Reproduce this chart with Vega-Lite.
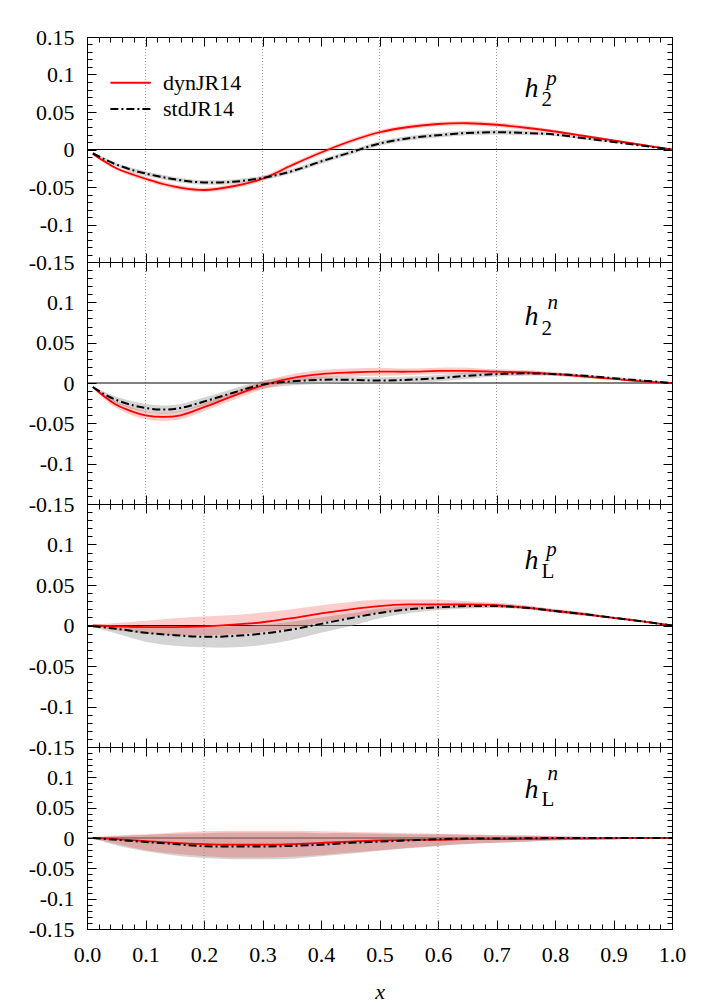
{
"$schema": "https://vega.github.io/schema/vega-lite/v6.json",
"background": "white",
"padding": {"left": 27, "top": 25, "right": 5, "bottom": 5},
"bounds": "flush",
"spacing": 0,
"datasets": {
"curves": [
{"panel":"h2p","x":0.01,"dyn":-0.006,"dyn_lo":-0.007,"dyn_hi":-0.005,"std":-0.005,"std_lo":-0.006,"std_hi":-0.004},
{"panel":"h2p","x":0.03,"dyn":-0.016,"dyn_lo":-0.018,"dyn_hi":-0.014,"std":-0.013,"std_lo":-0.015,"std_hi":-0.011},
{"panel":"h2p","x":0.05,"dyn":-0.025,"dyn_lo":-0.027,"dyn_hi":-0.023,"std":-0.020,"std_lo":-0.022,"std_hi":-0.018},
{"panel":"h2p","x":0.08,"dyn":-0.034,"dyn_lo":-0.037,"dyn_hi":-0.031,"std":-0.028,"std_lo":-0.031,"std_hi":-0.025},
{"panel":"h2p","x":0.1,"dyn":-0.039,"dyn_lo":-0.042,"dyn_hi":-0.036,"std":-0.032,"std_lo":-0.035,"std_hi":-0.029},
{"panel":"h2p","x":0.13,"dyn":-0.046,"dyn_lo":-0.049,"dyn_hi":-0.043,"std":-0.037,"std_lo":-0.040,"std_hi":-0.034},
{"panel":"h2p","x":0.16,"dyn":-0.051,"dyn_lo":-0.054,"dyn_hi":-0.048,"std":-0.041,"std_lo":-0.044,"std_hi":-0.038},
{"panel":"h2p","x":0.2,"dyn":-0.054,"dyn_lo":-0.057,"dyn_hi":-0.051,"std":-0.044,"std_lo":-0.047,"std_hi":-0.041},
{"panel":"h2p","x":0.25,"dyn":-0.049,"dyn_lo":-0.052,"dyn_hi":-0.046,"std":-0.043,"std_lo":-0.046,"std_hi":-0.040},
{"panel":"h2p","x":0.3,"dyn":-0.039,"dyn_lo":-0.042,"dyn_hi":-0.036,"std":-0.038,"std_lo":-0.041,"std_hi":-0.035},
{"panel":"h2p","x":0.35,"dyn":-0.021,"dyn_lo":-0.024,"dyn_hi":-0.018,"std":-0.029,"std_lo":-0.032,"std_hi":-0.026},
{"panel":"h2p","x":0.4,"dyn":-0.004,"dyn_lo":-0.007,"dyn_hi":-0.001,"std":-0.016,"std_lo":-0.019,"std_hi":-0.013},
{"panel":"h2p","x":0.45,"dyn":0.011,"dyn_lo":0.008,"dyn_hi":0.014,"std":-0.004,"std_lo":-0.007,"std_hi":-0.001},
{"panel":"h2p","x":0.5,"dyn":0.023,"dyn_lo":0.020,"dyn_hi":0.026,"std":0.008,"std_lo":0.005,"std_hi":0.011},
{"panel":"h2p","x":0.55,"dyn":0.030,"dyn_lo":0.027,"dyn_hi":0.033,"std":0.015,"std_lo":0.012,"std_hi":0.018},
{"panel":"h2p","x":0.6,"dyn":0.034,"dyn_lo":0.031,"dyn_hi":0.037,"std":0.019,"std_lo":0.016,"std_hi":0.022},
{"panel":"h2p","x":0.65,"dyn":0.035,"dyn_lo":0.032,"dyn_hi":0.038,"std":0.022,"std_lo":0.019,"std_hi":0.025},
{"panel":"h2p","x":0.7,"dyn":0.033,"dyn_lo":0.030,"dyn_hi":0.036,"std":0.023,"std_lo":0.020,"std_hi":0.026},
{"panel":"h2p","x":0.75,"dyn":0.029,"dyn_lo":0.026,"dyn_hi":0.032,"std":0.022,"std_lo":0.019,"std_hi":0.025},
{"panel":"h2p","x":0.8,"dyn":0.024,"dyn_lo":0.022,"dyn_hi":0.026,"std":0.020,"std_lo":0.018,"std_hi":0.022},
{"panel":"h2p","x":0.85,"dyn":0.018,"dyn_lo":0.016,"dyn_hi":0.020,"std":0.015,"std_lo":0.013,"std_hi":0.017},
{"panel":"h2p","x":0.9,"dyn":0.012,"dyn_lo":0.011,"dyn_hi":0.013,"std":0.010,"std_lo":0.009,"std_hi":0.011},
{"panel":"h2p","x":0.95,"dyn":0.006,"dyn_lo":0.005,"dyn_hi":0.007,"std":0.005,"std_lo":0.004,"std_hi":0.006},
{"panel":"h2p","x":1,"dyn":0,"dyn_lo":0,"dyn_hi":0,"std":0,"std_lo":0,"std_hi":0},
{"panel":"h2n","x":0.01,"dyn":-0.005,"dyn_lo":-0.006,"dyn_hi":-0.004,"std":-0.005,"std_lo":-0.006,"std_hi":-0.004},
{"panel":"h2n","x":0.03,"dyn":-0.017,"dyn_lo":-0.020,"dyn_hi":-0.014,"std":-0.014,"std_lo":-0.017,"std_hi":-0.011},
{"panel":"h2n","x":0.05,"dyn":-0.027,"dyn_lo":-0.031,"dyn_hi":-0.023,"std":-0.021,"std_lo":-0.025,"std_hi":-0.017},
{"panel":"h2n","x":0.08,"dyn":-0.036,"dyn_lo":-0.041,"dyn_hi":-0.031,"std":-0.028,"std_lo":-0.033,"std_hi":-0.023},
{"panel":"h2n","x":0.1,"dyn":-0.040,"dyn_lo":-0.045,"dyn_hi":-0.035,"std":-0.031,"std_lo":-0.036,"std_hi":-0.026},
{"panel":"h2n","x":0.13,"dyn":-0.042,"dyn_lo":-0.047,"dyn_hi":-0.037,"std":-0.033,"std_lo":-0.038,"std_hi":-0.028},
{"panel":"h2n","x":0.16,"dyn":-0.040,"dyn_lo":-0.045,"dyn_hi":-0.035,"std":-0.031,"std_lo":-0.036,"std_hi":-0.026},
{"panel":"h2n","x":0.2,"dyn":-0.030,"dyn_lo":-0.035,"dyn_hi":-0.025,"std":-0.023,"std_lo":-0.028,"std_hi":-0.018},
{"panel":"h2n","x":0.25,"dyn":-0.016,"dyn_lo":-0.021,"dyn_hi":-0.011,"std":-0.012,"std_lo":-0.017,"std_hi":-0.007},
{"panel":"h2n","x":0.3,"dyn":-0.003,"dyn_lo":-0.008,"dyn_hi":0.002,"std":-0.002,"std_lo":-0.007,"std_hi":0.003},
{"panel":"h2n","x":0.35,"dyn":0.006,"dyn_lo":0.001,"dyn_hi":0.011,"std":0.002,"std_lo":-0.003,"std_hi":0.007},
{"panel":"h2n","x":0.4,"dyn":0.011,"dyn_lo":0.006,"dyn_hi":0.016,"std":0.004,"std_lo":-0.001,"std_hi":0.008},
{"panel":"h2n","x":0.45,"dyn":0.013,"dyn_lo":0.008,"dyn_hi":0.018,"std":0.004,"std_lo":0.000,"std_hi":0.008},
{"panel":"h2n","x":0.5,"dyn":0.014,"dyn_lo":0.009,"dyn_hi":0.019,"std":0.003,"std_lo":-0.001,"std_hi":0.007},
{"panel":"h2n","x":0.55,"dyn":0.014,"dyn_lo":0.010,"dyn_hi":0.018,"std":0.004,"std_lo":0.000,"std_hi":0.008},
{"panel":"h2n","x":0.6,"dyn":0.015,"dyn_lo":0.011,"dyn_hi":0.019,"std":0.006,"std_lo":0.002,"std_hi":0.010},
{"panel":"h2n","x":0.65,"dyn":0.015,"dyn_lo":0.011,"dyn_hi":0.019,"std":0.009,"std_lo":0.005,"std_hi":0.013},
{"panel":"h2n","x":0.7,"dyn":0.014,"dyn_lo":0.011,"dyn_hi":0.017,"std":0.011,"std_lo":0.008,"std_hi":0.014},
{"panel":"h2n","x":0.75,"dyn":0.013,"dyn_lo":0.010,"dyn_hi":0.016,"std":0.012,"std_lo":0.009,"std_hi":0.015},
{"panel":"h2n","x":0.8,"dyn":0.011,"dyn_lo":0.009,"dyn_hi":0.013,"std":0.011,"std_lo":0.009,"std_hi":0.013},
{"panel":"h2n","x":0.85,"dyn":0.008,"dyn_lo":0.006,"dyn_hi":0.010,"std":0.009,"std_lo":0.007,"std_hi":0.011},
{"panel":"h2n","x":0.9,"dyn":0.005,"dyn_lo":0.004,"dyn_hi":0.006,"std":0.006,"std_lo":0.005,"std_hi":0.007},
{"panel":"h2n","x":0.95,"dyn":0.002,"dyn_lo":0.001,"dyn_hi":0.003,"std":0.003,"std_lo":0.002,"std_hi":0.004},
{"panel":"h2n","x":1,"dyn":0,"dyn_lo":0,"dyn_hi":0,"std":0,"std_lo":0,"std_hi":0},
{"panel":"hLp","x":0.01,"dyn":0.000,"dyn_lo":-0.001,"dyn_hi":0.001,"std":-0.001,"std_lo":-0.002,"std_hi":0.000},
{"panel":"hLp","x":0.05,"dyn":-0.001,"dyn_lo":-0.006,"dyn_hi":0.003,"std":-0.004,"std_lo":-0.010,"std_hi":0.000},
{"panel":"hLp","x":0.1,"dyn":-0.002,"dyn_lo":-0.010,"dyn_hi":0.006,"std":-0.009,"std_lo":-0.020,"std_hi":-0.001},
{"panel":"hLp","x":0.15,"dyn":-0.002,"dyn_lo":-0.012,"dyn_hi":0.009,"std":-0.012,"std_lo":-0.025,"std_hi":-0.002},
{"panel":"hLp","x":0.2,"dyn":-0.001,"dyn_lo":-0.012,"dyn_hi":0.011,"std":-0.014,"std_lo":-0.027,"std_hi":-0.002},
{"panel":"hLp","x":0.25,"dyn":0.001,"dyn_lo":-0.011,"dyn_hi":0.013,"std":-0.013,"std_lo":-0.027,"std_hi":-0.001},
{"panel":"hLp","x":0.3,"dyn":0.004,"dyn_lo":-0.008,"dyn_hi":0.016,"std":-0.010,"std_lo":-0.024,"std_hi":0.001},
{"panel":"hLp","x":0.35,"dyn":0.009,"dyn_lo":-0.003,"dyn_hi":0.020,"std":-0.005,"std_lo":-0.018,"std_hi":0.005},
{"panel":"hLp","x":0.4,"dyn":0.015,"dyn_lo":0.004,"dyn_hi":0.025,"std":0.002,"std_lo":-0.009,"std_hi":0.010},
{"panel":"hLp","x":0.45,"dyn":0.020,"dyn_lo":0.010,"dyn_hi":0.029,"std":0.009,"std_lo":-0.001,"std_hi":0.015},
{"panel":"hLp","x":0.5,"dyn":0.024,"dyn_lo":0.016,"dyn_hi":0.032,"std":0.0155,"std_lo":0.009,"std_hi":0.021},
{"panel":"hLp","x":0.55,"dyn":0.026,"dyn_lo":0.020,"dyn_hi":0.032,"std":0.020,"std_lo":0.015,"std_hi":0.024},
{"panel":"hLp","x":0.6,"dyn":0.026,"dyn_lo":0.021,"dyn_hi":0.032,"std":0.0225,"std_lo":0.019,"std_hi":0.026},
{"panel":"hLp","x":0.65,"dyn":0.026,"dyn_lo":0.022,"dyn_hi":0.030,"std":0.024,"std_lo":0.021,"std_hi":0.027},
{"panel":"hLp","x":0.7,"dyn":0.025,"dyn_lo":0.022,"dyn_hi":0.028,"std":0.024,"std_lo":0.022,"std_hi":0.027},
{"panel":"hLp","x":0.75,"dyn":0.022,"dyn_lo":0.020,"dyn_hi":0.025,"std":0.022,"std_lo":0.020,"std_hi":0.024},
{"panel":"hLp","x":0.8,"dyn":0.018,"dyn_lo":0.016,"dyn_hi":0.020,"std":0.018,"std_lo":0.016,"std_hi":0.020},
{"panel":"hLp","x":0.85,"dyn":0.014,"dyn_lo":0.012,"dyn_hi":0.016,"std":0.014,"std_lo":0.012,"std_hi":0.016},
{"panel":"hLp","x":0.9,"dyn":0.0095,"dyn_lo":0.0085,"dyn_hi":0.0105,"std":0.0095,"std_lo":0.0085,"std_hi":0.0105},
{"panel":"hLp","x":0.95,"dyn":0.005,"dyn_lo":0.004,"dyn_hi":0.006,"std":0.005,"std_lo":0.004,"std_hi":0.006},
{"panel":"hLp","x":1,"dyn":0,"dyn_lo":0,"dyn_hi":0,"std":0,"std_lo":0,"std_hi":0},
{"panel":"hLn","x":0.01,"dyn":0,"dyn_lo":-0.001,"dyn_hi":0.001,"std":0,"std_lo":-0.001,"std_hi":0.001},
{"panel":"hLn","x":0.05,"dyn":-0.002,"dyn_lo":-0.010,"dyn_hi":0.004,"std":-0.003,"std_lo":-0.012,"std_hi":0.003},
{"panel":"hLn","x":0.1,"dyn":-0.005,"dyn_lo":-0.020,"dyn_hi":0.006,"std":-0.0065,"std_lo":-0.022,"std_hi":0.005},
{"panel":"hLn","x":0.15,"dyn":-0.008,"dyn_lo":-0.026,"dyn_hi":0.009,"std":-0.010,"std_lo":-0.029,"std_hi":0.007},
{"panel":"hLn","x":0.2,"dyn":-0.010,"dyn_lo":-0.030,"dyn_hi":0.011,"std":-0.0135,"std_lo":-0.033,"std_hi":0.008},
{"panel":"hLn","x":0.25,"dyn":-0.011,"dyn_lo":-0.032,"dyn_hi":0.012,"std":-0.014,"std_lo":-0.035,"std_hi":0.009},
{"panel":"hLn","x":0.3,"dyn":-0.011,"dyn_lo":-0.032,"dyn_hi":0.012,"std":-0.014,"std_lo":-0.035,"std_hi":0.009},
{"panel":"hLn","x":0.35,"dyn":-0.010,"dyn_lo":-0.031,"dyn_hi":0.012,"std":-0.013,"std_lo":-0.034,"std_hi":0.009},
{"panel":"hLn","x":0.4,"dyn":-0.008,"dyn_lo":-0.028,"dyn_hi":0.011,"std":-0.011,"std_lo":-0.030,"std_hi":0.008},
{"panel":"hLn","x":0.45,"dyn":-0.006,"dyn_lo":-0.024,"dyn_hi":0.010,"std":-0.008,"std_lo":-0.026,"std_hi":0.008},
{"panel":"hLn","x":0.5,"dyn":-0.004,"dyn_lo":-0.020,"dyn_hi":0.009,"std":-0.006,"std_lo":-0.021,"std_hi":0.007},
{"panel":"hLn","x":0.55,"dyn":-0.003,"dyn_lo":-0.016,"dyn_hi":0.008,"std":-0.004,"std_lo":-0.017,"std_hi":0.006},
{"panel":"hLn","x":0.6,"dyn":-0.003,"dyn_lo":-0.013,"dyn_hi":0.007,"std":-0.002,"std_lo":-0.013,"std_hi":0.006},
{"panel":"hLn","x":0.65,"dyn":-0.002,"dyn_lo":-0.010,"dyn_hi":0.006,"std":-0.001,"std_lo":-0.010,"std_hi":0.005},
{"panel":"hLn","x":0.7,"dyn":-0.002,"dyn_lo":-0.008,"dyn_hi":0.005,"std":-0.001,"std_lo":-0.008,"std_hi":0.004},
{"panel":"hLn","x":0.75,"dyn":-0.0015,"dyn_lo":-0.006,"dyn_hi":0.004,"std":-0.0005,"std_lo":-0.006,"std_hi":0.004},
{"panel":"hLn","x":0.8,"dyn":-0.001,"dyn_lo":-0.004,"dyn_hi":0.003,"std":0,"std_lo":-0.004,"std_hi":0.003},
{"panel":"hLn","x":0.85,"dyn":-0.001,"dyn_lo":-0.003,"dyn_hi":0.002,"std":0,"std_lo":-0.003,"std_hi":0.002},
{"panel":"hLn","x":0.9,"dyn":-0.0005,"dyn_lo":-0.002,"dyn_hi":0.001,"std":0,"std_lo":-0.002,"std_hi":0.001},
{"panel":"hLn","x":0.95,"dyn":0,"dyn_lo":-0.001,"dyn_hi":0.001,"std":0,"std_lo":-0.001,"std_hi":0.001},
{"panel":"hLn","x":1,"dyn":0,"dyn_lo":0,"dyn_hi":0,"std":0,"std_lo":0,"std_hi":0}
],
"vlines": [
{"panel":"h2p","x":0.1},{"panel":"h2p","x":0.3},{"panel":"h2p","x":0.5},{"panel":"h2p","x":0.7},
{"panel":"h2n","x":0.1},{"panel":"h2n","x":0.3},{"panel":"h2n","x":0.5},{"panel":"h2n","x":0.7},
{"panel":"hLp","x":0.2},{"panel":"hLp","x":0.6},
{"panel":"hLn","x":0.2},{"panel":"hLn","x":0.6}
],
"labels": [
{"panel":"h2p","part":"base","x":0.748,"y":0.070,"text":"h"},
{"panel":"h2p","part":"sub","x":0.777,"y":0.058,"text":"2"},
{"panel":"h2p","part":"sup","x":0.785,"y":0.086,"text":"p"},
{"panel":"h2n","part":"base","x":0.748,"y":0.0715,"text":"h"},
{"panel":"h2n","part":"sub","x":0.777,"y":0.059,"text":"2"},
{"panel":"h2n","part":"sup","x":0.787,"y":0.092,"text":"n"},
{"panel":"hLp","part":"base","x":0.748,"y":0.070,"text":"h"},
{"panel":"hLp","part":"sub","x":0.777,"y":0.059,"text":"L"},
{"panel":"hLp","part":"sup","x":0.785,"y":0.086,"text":"p"},
{"panel":"hLn","part":"base","x":0.748,"y":0.066,"text":"h"},
{"panel":"hLn","part":"sub","x":0.777,"y":0.053,"text":"L"},
{"panel":"hLn","part":"sup","x":0.787,"y":0.095,"text":"n"}
],
"legend": [
{"series":"dynJR14","x1":0.04,"x2":0.109,"tx":0.13,"y":0.089},
{"series":"stdJR14","x1":0.04,"x2":0.109,"tx":0.13,"y":0.054}
]
},
"vconcat": [
{
"width": 585, "height": 225,
"layer": [
{"data":{"name":"vlines"},"transform":[{"filter":"datum.panel==='h2p'"}],"mark":{"type":"rule","color":"#999999","strokeWidth":1,"strokeDash":[1,2]},"encoding":{"x":{"field":"x","type":"quantitative","scale":{"domain":[0,1],"nice":false},"axis":null}}},
{"data":{"values":[{"y":0}]},"mark":{"type":"rule","color":"black","strokeWidth":1},"encoding":{"y":{"field":"y","type":"quantitative","scale":{"domain":[-0.15,0.15],"nice":false},"axis":null}}},
{"data":{"name":"curves"},"transform":[{"filter":"datum.panel==='h2p'"}],"mark":{"type":"area","color":"#aaaaaa","opacity":0.5,"interpolate":"catmull-rom"},
 "encoding":{"x":{"field":"x","type":"quantitative","scale":{"domain":[0,1],"nice":false},"axis":{"orient":"bottom","values":[0,0.1,0.2,0.3,0.4,0.5,0.6,0.7,0.8,0.9,1],"tickSize":-9,"labels":false,"title":null}},
 "y":{"field":"std_lo","type":"quantitative","scale":{"domain":[-0.15,0.15],"nice":false},"axis":{"orient":"left","values":[-0.15,-0.1,-0.05,0,0.05,0.1,0.15],"tickSize":-9,"labelPadding":22,"labelExpr":"(datum.value < 0 ? '-' : '') + format(abs(datum.value), '.2~f')","title":null}},
 "y2":{"field":"std_hi"}}},
{"data":{"name":"curves"},"transform":[{"filter":"datum.panel==='h2p'"}],"mark":{"type":"area","color":"#ff0000","opacity":0.2,"interpolate":"catmull-rom"},
 "encoding":{"x":{"field":"x","type":"quantitative","scale":{"domain":[0,1],"nice":false},"axis":{"orient":"bottom","values":[0,0.02,0.04,0.06,0.08,0.1,0.12,0.14,0.16,0.18,0.2,0.22,0.24,0.26,0.28,0.3,0.32,0.34,0.36,0.38,0.4,0.42,0.44,0.46,0.48,0.5,0.52,0.54,0.56,0.58,0.6,0.62,0.64,0.66,0.68,0.7,0.72,0.74,0.76,0.78,0.8,0.82,0.84,0.86,0.88,0.9,0.92,0.94,0.96,0.98,1],"tickSize":-5,"labels":false,"title":null}},
 "y":{"field":"dyn_lo","type":"quantitative","scale":{"domain":[-0.15,0.15],"nice":false},"axis":{"orient":"left","values":[-0.15,-0.14,-0.13,-0.12,-0.11,-0.1,-0.09,-0.08,-0.07,-0.06,-0.05,-0.04,-0.03,-0.02,-0.01,0,0.01,0.02,0.03,0.04,0.05,0.06,0.07,0.08,0.09,0.1,0.11,0.12,0.13,0.14,0.15],"tickSize":-5,"labels":false,"title":null}},
 "y2":{"field":"dyn_hi"}}},
{"data":{"name":"curves"},"transform":[{"filter":"datum.panel==='h2p'"}],"mark":{"type":"line","color":"#ff0000","strokeWidth":1.8,"interpolate":"catmull-rom"},
 "encoding":{"x":{"field":"x","type":"quantitative","scale":{"domain":[0,1],"nice":false},"axis":{"orient":"top","values":[0,0.1,0.2,0.3,0.4,0.5,0.6,0.7,0.8,0.9,1],"tickSize":-9,"labels":false,"title":null}},
 "y":{"field":"dyn","type":"quantitative","scale":{"domain":[-0.15,0.15],"nice":false},"axis":{"orient":"right","values":[-0.15,-0.1,-0.05,0,0.05,0.1,0.15],"tickSize":-9,"labels":false,"title":null}}}},
{"data":{"name":"curves"},"transform":[{"filter":"datum.panel==='h2p'"}],"mark":{"type":"line","color":"black","strokeWidth":2,"strokeDash":[8,3,2,3],"interpolate":"catmull-rom"},
 "encoding":{"x":{"field":"x","type":"quantitative","scale":{"domain":[0,1],"nice":false},"axis":{"orient":"top","values":[0,0.02,0.04,0.06,0.08,0.1,0.12,0.14,0.16,0.18,0.2,0.22,0.24,0.26,0.28,0.3,0.32,0.34,0.36,0.38,0.4,0.42,0.44,0.46,0.48,0.5,0.52,0.54,0.56,0.58,0.6,0.62,0.64,0.66,0.68,0.7,0.72,0.74,0.76,0.78,0.8,0.82,0.84,0.86,0.88,0.9,0.92,0.94,0.96,0.98,1],"tickSize":-5,"labels":false,"title":null}},
 "y":{"field":"std","type":"quantitative","scale":{"domain":[-0.15,0.15],"nice":false},"axis":{"orient":"right","values":[-0.15,-0.14,-0.13,-0.12,-0.11,-0.1,-0.09,-0.08,-0.07,-0.06,-0.05,-0.04,-0.03,-0.02,-0.01,0,0.01,0.02,0.03,0.04,0.05,0.06,0.07,0.08,0.09,0.1,0.11,0.12,0.13,0.14,0.15],"tickSize":-5,"labels":false,"title":null}}}},
{"data":{"name":"labels"},"transform":[{"filter":"datum.panel==='h2p' && datum.part==='base'"}],"mark":{"type":"text","font":"Liberation Serif, Times New Roman, serif","fontSize":28,"fontStyle":"italic","align":"left","baseline":"alphabetic"},"encoding":{"x":{"field":"x","type":"quantitative","axis":null},"y":{"field":"y","type":"quantitative","axis":null},"text":{"field":"text"}}},
{"data":{"name":"labels"},"transform":[{"filter":"datum.panel==='h2p' && datum.part==='sub'"}],"mark":{"type":"text","font":"Liberation Serif, Times New Roman, serif","fontSize":21,"align":"left","baseline":"alphabetic"},"encoding":{"x":{"field":"x","type":"quantitative","axis":null},"y":{"field":"y","type":"quantitative","axis":null},"text":{"field":"text"}}},
{"data":{"name":"labels"},"transform":[{"filter":"datum.panel==='h2p' && datum.part==='sup'"}],"mark":{"type":"text","font":"Liberation Serif, Times New Roman, serif","fontSize":21,"fontStyle":"italic","align":"left","baseline":"alphabetic"},"encoding":{"x":{"field":"x","type":"quantitative","axis":null},"y":{"field":"y","type":"quantitative","axis":null},"text":{"field":"text"}}},
{"data":{"name":"legend"},"transform":[{"filter":"datum.series==='dynJR14'"}],"mark":{"type":"rule","color":"#ff0000","strokeWidth":1.8},"encoding":{"x":{"field":"x1","type":"quantitative","axis":null},"x2":{"field":"x2"},"y":{"field":"y","type":"quantitative","axis":null}}},
{"data":{"name":"legend"},"transform":[{"filter":"datum.series==='stdJR14'"}],"mark":{"type":"rule","color":"black","strokeWidth":2,"strokeDash":[8,3,2,3]},"encoding":{"x":{"field":"x1","type":"quantitative","axis":null},"x2":{"field":"x2"},"y":{"field":"y","type":"quantitative","axis":null}}},
{"data":{"name":"legend"},"mark":{"type":"text","font":"Liberation Serif, Times New Roman, serif","fontSize":22,"align":"left","baseline":"middle"},"encoding":{"x":{"field":"tx","type":"quantitative","axis":null},"y":{"field":"y","type":"quantitative","axis":null},"text":{"field":"series"}}}
],
"resolve":{"axis":{"x":"independent","y":"independent"}}
},
{
"width": 585, "height": 242,
"layer": [
{"data":{"name":"vlines"},"transform":[{"filter":"datum.panel==='h2n'"}],"mark":{"type":"rule","color":"#999999","strokeWidth":1,"strokeDash":[1,2]},"encoding":{"x":{"field":"x","type":"quantitative","scale":{"domain":[0,1],"nice":false},"axis":null}}},
{"data":{"values":[{"y":0}]},"mark":{"type":"rule","color":"black","strokeWidth":1},"encoding":{"y":{"field":"y","type":"quantitative","scale":{"domain":[-0.15,0.15],"nice":false},"axis":null}}},
{"data":{"name":"curves"},"transform":[{"filter":"datum.panel==='h2n'"}],"mark":{"type":"area","color":"#aaaaaa","opacity":0.5,"interpolate":"catmull-rom"},
 "encoding":{"x":{"field":"x","type":"quantitative","scale":{"domain":[0,1],"nice":false},"axis":{"orient":"bottom","values":[0,0.1,0.2,0.3,0.4,0.5,0.6,0.7,0.8,0.9,1],"tickSize":-9,"labels":false,"title":null}},
 "y":{"field":"std_lo","type":"quantitative","scale":{"domain":[-0.15,0.15],"nice":false},"axis":{"orient":"left","values":[-0.15,-0.1,-0.05,0,0.05,0.1],"tickSize":-9,"labelPadding":22,"labelExpr":"(datum.value < 0 ? '-' : '') + format(abs(datum.value), '.2~f')","title":null}},
 "y2":{"field":"std_hi"}}},
{"data":{"name":"curves"},"transform":[{"filter":"datum.panel==='h2n'"}],"mark":{"type":"area","color":"#ff0000","opacity":0.2,"interpolate":"catmull-rom"},
 "encoding":{"x":{"field":"x","type":"quantitative","scale":{"domain":[0,1],"nice":false},"axis":{"orient":"bottom","values":[0,0.02,0.04,0.06,0.08,0.1,0.12,0.14,0.16,0.18,0.2,0.22,0.24,0.26,0.28,0.3,0.32,0.34,0.36,0.38,0.4,0.42,0.44,0.46,0.48,0.5,0.52,0.54,0.56,0.58,0.6,0.62,0.64,0.66,0.68,0.7,0.72,0.74,0.76,0.78,0.8,0.82,0.84,0.86,0.88,0.9,0.92,0.94,0.96,0.98,1],"tickSize":-5,"labels":false,"title":null}},
 "y":{"field":"dyn_lo","type":"quantitative","scale":{"domain":[-0.15,0.15],"nice":false},"axis":{"orient":"left","values":[-0.15,-0.14,-0.13,-0.12,-0.11,-0.1,-0.09,-0.08,-0.07,-0.06,-0.05,-0.04,-0.03,-0.02,-0.01,0,0.01,0.02,0.03,0.04,0.05,0.06,0.07,0.08,0.09,0.1,0.11,0.12,0.13,0.14,0.15],"tickSize":-5,"labels":false,"title":null}},
 "y2":{"field":"dyn_hi"}}},
{"data":{"name":"curves"},"transform":[{"filter":"datum.panel==='h2n'"}],"mark":{"type":"line","color":"#ff0000","strokeWidth":1.8,"interpolate":"catmull-rom"},
 "encoding":{"x":{"field":"x","type":"quantitative","scale":{"domain":[0,1],"nice":false},"axis":{"orient":"top","values":[0,0.1,0.2,0.3,0.4,0.5,0.6,0.7,0.8,0.9,1],"tickSize":-9,"labels":false,"title":null}},
 "y":{"field":"dyn","type":"quantitative","scale":{"domain":[-0.15,0.15],"nice":false},"axis":{"orient":"right","values":[-0.15,-0.1,-0.05,0,0.05,0.1,0.15],"tickSize":-9,"labels":false,"title":null}}}},
{"data":{"name":"curves"},"transform":[{"filter":"datum.panel==='h2n'"}],"mark":{"type":"line","color":"black","strokeWidth":2,"strokeDash":[8,3,2,3],"interpolate":"catmull-rom"},
 "encoding":{"x":{"field":"x","type":"quantitative","scale":{"domain":[0,1],"nice":false},"axis":{"orient":"top","values":[0,0.02,0.04,0.06,0.08,0.1,0.12,0.14,0.16,0.18,0.2,0.22,0.24,0.26,0.28,0.3,0.32,0.34,0.36,0.38,0.4,0.42,0.44,0.46,0.48,0.5,0.52,0.54,0.56,0.58,0.6,0.62,0.64,0.66,0.68,0.7,0.72,0.74,0.76,0.78,0.8,0.82,0.84,0.86,0.88,0.9,0.92,0.94,0.96,0.98,1],"tickSize":-5,"labels":false,"title":null}},
 "y":{"field":"std","type":"quantitative","scale":{"domain":[-0.15,0.15],"nice":false},"axis":{"orient":"right","values":[-0.15,-0.14,-0.13,-0.12,-0.11,-0.1,-0.09,-0.08,-0.07,-0.06,-0.05,-0.04,-0.03,-0.02,-0.01,0,0.01,0.02,0.03,0.04,0.05,0.06,0.07,0.08,0.09,0.1,0.11,0.12,0.13,0.14,0.15],"tickSize":-5,"labels":false,"title":null}}}},
{"data":{"name":"labels"},"transform":[{"filter":"datum.panel==='h2n' && datum.part==='base'"}],"mark":{"type":"text","font":"Liberation Serif, Times New Roman, serif","fontSize":28,"fontStyle":"italic","align":"left","baseline":"alphabetic"},"encoding":{"x":{"field":"x","type":"quantitative","axis":null},"y":{"field":"y","type":"quantitative","axis":null},"text":{"field":"text"}}},
{"data":{"name":"labels"},"transform":[{"filter":"datum.panel==='h2n' && datum.part==='sub'"}],"mark":{"type":"text","font":"Liberation Serif, Times New Roman, serif","fontSize":21,"align":"left","baseline":"alphabetic"},"encoding":{"x":{"field":"x","type":"quantitative","axis":null},"y":{"field":"y","type":"quantitative","axis":null},"text":{"field":"text"}}},
{"data":{"name":"labels"},"transform":[{"filter":"datum.panel==='h2n' && datum.part==='sup'"}],"mark":{"type":"text","font":"Liberation Serif, Times New Roman, serif","fontSize":21,"fontStyle":"italic","align":"left","baseline":"alphabetic"},"encoding":{"x":{"field":"x","type":"quantitative","axis":null},"y":{"field":"y","type":"quantitative","axis":null},"text":{"field":"text"}}}
],
"resolve":{"axis":{"x":"independent","y":"independent"}}
},
{
"width": 585, "height": 243,
"layer": [
{"data":{"name":"vlines"},"transform":[{"filter":"datum.panel==='hLp'"}],"mark":{"type":"rule","color":"#999999","strokeWidth":1,"strokeDash":[1,2]},"encoding":{"x":{"field":"x","type":"quantitative","scale":{"domain":[0,1],"nice":false},"axis":null}}},
{"data":{"values":[{"y":0}]},"mark":{"type":"rule","color":"black","strokeWidth":1},"encoding":{"y":{"field":"y","type":"quantitative","scale":{"domain":[-0.15,0.15],"nice":false},"axis":null}}},
{"data":{"name":"curves"},"transform":[{"filter":"datum.panel==='hLp'"}],"mark":{"type":"area","color":"#aaaaaa","opacity":0.5,"interpolate":"catmull-rom"},
 "encoding":{"x":{"field":"x","type":"quantitative","scale":{"domain":[0,1],"nice":false},"axis":{"orient":"bottom","values":[0,0.1,0.2,0.3,0.4,0.5,0.6,0.7,0.8,0.9,1],"tickSize":-9,"labels":false,"title":null}},
 "y":{"field":"std_lo","type":"quantitative","scale":{"domain":[-0.15,0.15],"nice":false},"axis":{"orient":"left","values":[-0.15,-0.1,-0.05,0,0.05,0.1],"tickSize":-9,"labelPadding":22,"labelExpr":"(datum.value < 0 ? '-' : '') + format(abs(datum.value), '.2~f')","title":null}},
 "y2":{"field":"std_hi"}}},
{"data":{"name":"curves"},"transform":[{"filter":"datum.panel==='hLp'"}],"mark":{"type":"area","color":"#ff0000","opacity":0.2,"interpolate":"catmull-rom"},
 "encoding":{"x":{"field":"x","type":"quantitative","scale":{"domain":[0,1],"nice":false},"axis":{"orient":"bottom","values":[0,0.02,0.04,0.06,0.08,0.1,0.12,0.14,0.16,0.18,0.2,0.22,0.24,0.26,0.28,0.3,0.32,0.34,0.36,0.38,0.4,0.42,0.44,0.46,0.48,0.5,0.52,0.54,0.56,0.58,0.6,0.62,0.64,0.66,0.68,0.7,0.72,0.74,0.76,0.78,0.8,0.82,0.84,0.86,0.88,0.9,0.92,0.94,0.96,0.98,1],"tickSize":-5,"labels":false,"title":null}},
 "y":{"field":"dyn_lo","type":"quantitative","scale":{"domain":[-0.15,0.15],"nice":false},"axis":{"orient":"left","values":[-0.15,-0.14,-0.13,-0.12,-0.11,-0.1,-0.09,-0.08,-0.07,-0.06,-0.05,-0.04,-0.03,-0.02,-0.01,0,0.01,0.02,0.03,0.04,0.05,0.06,0.07,0.08,0.09,0.1,0.11,0.12,0.13,0.14,0.15],"tickSize":-5,"labels":false,"title":null}},
 "y2":{"field":"dyn_hi"}}},
{"data":{"name":"curves"},"transform":[{"filter":"datum.panel==='hLp'"}],"mark":{"type":"line","color":"#ff0000","strokeWidth":1.8,"interpolate":"catmull-rom"},
 "encoding":{"x":{"field":"x","type":"quantitative","scale":{"domain":[0,1],"nice":false},"axis":{"orient":"top","values":[0,0.1,0.2,0.3,0.4,0.5,0.6,0.7,0.8,0.9,1],"tickSize":-9,"labels":false,"title":null}},
 "y":{"field":"dyn","type":"quantitative","scale":{"domain":[-0.15,0.15],"nice":false},"axis":{"orient":"right","values":[-0.15,-0.1,-0.05,0,0.05,0.1,0.15],"tickSize":-9,"labels":false,"title":null}}}},
{"data":{"name":"curves"},"transform":[{"filter":"datum.panel==='hLp'"}],"mark":{"type":"line","color":"black","strokeWidth":2,"strokeDash":[8,3,2,3],"interpolate":"catmull-rom"},
 "encoding":{"x":{"field":"x","type":"quantitative","scale":{"domain":[0,1],"nice":false},"axis":{"orient":"top","values":[0,0.02,0.04,0.06,0.08,0.1,0.12,0.14,0.16,0.18,0.2,0.22,0.24,0.26,0.28,0.3,0.32,0.34,0.36,0.38,0.4,0.42,0.44,0.46,0.48,0.5,0.52,0.54,0.56,0.58,0.6,0.62,0.64,0.66,0.68,0.7,0.72,0.74,0.76,0.78,0.8,0.82,0.84,0.86,0.88,0.9,0.92,0.94,0.96,0.98,1],"tickSize":-5,"labels":false,"title":null}},
 "y":{"field":"std","type":"quantitative","scale":{"domain":[-0.15,0.15],"nice":false},"axis":{"orient":"right","values":[-0.15,-0.14,-0.13,-0.12,-0.11,-0.1,-0.09,-0.08,-0.07,-0.06,-0.05,-0.04,-0.03,-0.02,-0.01,0,0.01,0.02,0.03,0.04,0.05,0.06,0.07,0.08,0.09,0.1,0.11,0.12,0.13,0.14,0.15],"tickSize":-5,"labels":false,"title":null}}}},
{"data":{"name":"labels"},"transform":[{"filter":"datum.panel==='hLp' && datum.part==='base'"}],"mark":{"type":"text","font":"Liberation Serif, Times New Roman, serif","fontSize":28,"fontStyle":"italic","align":"left","baseline":"alphabetic"},"encoding":{"x":{"field":"x","type":"quantitative","axis":null},"y":{"field":"y","type":"quantitative","axis":null},"text":{"field":"text"}}},
{"data":{"name":"labels"},"transform":[{"filter":"datum.panel==='hLp' && datum.part==='sub'"}],"mark":{"type":"text","font":"Liberation Serif, Times New Roman, serif","fontSize":21,"align":"left","baseline":"alphabetic"},"encoding":{"x":{"field":"x","type":"quantitative","axis":null},"y":{"field":"y","type":"quantitative","axis":null},"text":{"field":"text"}}},
{"data":{"name":"labels"},"transform":[{"filter":"datum.panel==='hLp' && datum.part==='sup'"}],"mark":{"type":"text","font":"Liberation Serif, Times New Roman, serif","fontSize":21,"fontStyle":"italic","align":"left","baseline":"alphabetic"},"encoding":{"x":{"field":"x","type":"quantitative","axis":null},"y":{"field":"y","type":"quantitative","axis":null},"text":{"field":"text"}}}
],
"resolve":{"axis":{"x":"independent","y":"independent"}}
},
{
"width": 585, "height": 182,
"layer": [
{"data":{"name":"vlines"},"transform":[{"filter":"datum.panel==='hLn'"}],"mark":{"type":"rule","color":"#999999","strokeWidth":1,"strokeDash":[1,2]},"encoding":{"x":{"field":"x","type":"quantitative","scale":{"domain":[0,1],"nice":false},"axis":null}}},
{"data":{"values":[{"y":0}]},"mark":{"type":"rule","color":"black","strokeWidth":1},"encoding":{"y":{"field":"y","type":"quantitative","scale":{"domain":[-0.15,0.15],"nice":false},"axis":null}}},
{"data":{"name":"curves"},"transform":[{"filter":"datum.panel==='hLn'"}],"mark":{"type":"area","color":"#aaaaaa","opacity":0.5,"interpolate":"catmull-rom"},
 "encoding":{"x":{"field":"x","type":"quantitative","scale":{"domain":[0,1],"nice":false},"axis":{"orient":"bottom","values":[0,0.1,0.2,0.3,0.4,0.5,0.6,0.7,0.8,0.9,1],"tickSize":-9,"labelPadding":24,"format":".1f","title":"x","titleFontStyle":"italic","titlePadding":16}},
 "y":{"field":"std_lo","type":"quantitative","scale":{"domain":[-0.15,0.15],"nice":false},"axis":{"orient":"left","values":[-0.15,-0.1,-0.05,0,0.05,0.1],"tickSize":-9,"labelPadding":22,"labelExpr":"(datum.value < 0 ? '-' : '') + format(abs(datum.value), '.2~f')","title":null}},
 "y2":{"field":"std_hi"}}},
{"data":{"name":"curves"},"transform":[{"filter":"datum.panel==='hLn'"}],"mark":{"type":"area","color":"#ff0000","opacity":0.2,"interpolate":"catmull-rom"},
 "encoding":{"x":{"field":"x","type":"quantitative","scale":{"domain":[0,1],"nice":false},"axis":{"orient":"bottom","values":[0,0.02,0.04,0.06,0.08,0.1,0.12,0.14,0.16,0.18,0.2,0.22,0.24,0.26,0.28,0.3,0.32,0.34,0.36,0.38,0.4,0.42,0.44,0.46,0.48,0.5,0.52,0.54,0.56,0.58,0.6,0.62,0.64,0.66,0.68,0.7,0.72,0.74,0.76,0.78,0.8,0.82,0.84,0.86,0.88,0.9,0.92,0.94,0.96,0.98,1],"tickSize":-5,"labels":false,"title":null}},
 "y":{"field":"dyn_lo","type":"quantitative","scale":{"domain":[-0.15,0.15],"nice":false},"axis":{"orient":"left","values":[-0.15,-0.14,-0.13,-0.12,-0.11,-0.1,-0.09,-0.08,-0.07,-0.06,-0.05,-0.04,-0.03,-0.02,-0.01,0,0.01,0.02,0.03,0.04,0.05,0.06,0.07,0.08,0.09,0.1,0.11,0.12,0.13,0.14,0.15],"tickSize":-5,"labels":false,"title":null}},
 "y2":{"field":"dyn_hi"}}},
{"data":{"name":"curves"},"transform":[{"filter":"datum.panel==='hLn'"}],"mark":{"type":"line","color":"#ff0000","strokeWidth":1.8,"interpolate":"catmull-rom"},
 "encoding":{"x":{"field":"x","type":"quantitative","scale":{"domain":[0,1],"nice":false},"axis":{"orient":"top","values":[0,0.1,0.2,0.3,0.4,0.5,0.6,0.7,0.8,0.9,1],"tickSize":-9,"labels":false,"title":null}},
 "y":{"field":"dyn","type":"quantitative","scale":{"domain":[-0.15,0.15],"nice":false},"axis":{"orient":"right","values":[-0.15,-0.1,-0.05,0,0.05,0.1,0.15],"tickSize":-9,"labels":false,"title":null}}}},
{"data":{"name":"curves"},"transform":[{"filter":"datum.panel==='hLn'"}],"mark":{"type":"line","color":"black","strokeWidth":2,"strokeDash":[8,3,2,3],"interpolate":"catmull-rom"},
 "encoding":{"x":{"field":"x","type":"quantitative","scale":{"domain":[0,1],"nice":false},"axis":{"orient":"top","values":[0,0.02,0.04,0.06,0.08,0.1,0.12,0.14,0.16,0.18,0.2,0.22,0.24,0.26,0.28,0.3,0.32,0.34,0.36,0.38,0.4,0.42,0.44,0.46,0.48,0.5,0.52,0.54,0.56,0.58,0.6,0.62,0.64,0.66,0.68,0.7,0.72,0.74,0.76,0.78,0.8,0.82,0.84,0.86,0.88,0.9,0.92,0.94,0.96,0.98,1],"tickSize":-5,"labels":false,"title":null}},
 "y":{"field":"std","type":"quantitative","scale":{"domain":[-0.15,0.15],"nice":false},"axis":{"orient":"right","values":[-0.15,-0.14,-0.13,-0.12,-0.11,-0.1,-0.09,-0.08,-0.07,-0.06,-0.05,-0.04,-0.03,-0.02,-0.01,0,0.01,0.02,0.03,0.04,0.05,0.06,0.07,0.08,0.09,0.1,0.11,0.12,0.13,0.14,0.15],"tickSize":-5,"labels":false,"title":null}}}},
{"data":{"name":"labels"},"transform":[{"filter":"datum.panel==='hLn' && datum.part==='base'"}],"mark":{"type":"text","font":"Liberation Serif, Times New Roman, serif","fontSize":28,"fontStyle":"italic","align":"left","baseline":"alphabetic"},"encoding":{"x":{"field":"x","type":"quantitative","axis":null},"y":{"field":"y","type":"quantitative","axis":null},"text":{"field":"text"}}},
{"data":{"name":"labels"},"transform":[{"filter":"datum.panel==='hLn' && datum.part==='sub'"}],"mark":{"type":"text","font":"Liberation Serif, Times New Roman, serif","fontSize":21,"align":"left","baseline":"alphabetic"},"encoding":{"x":{"field":"x","type":"quantitative","axis":null},"y":{"field":"y","type":"quantitative","axis":null},"text":{"field":"text"}}},
{"data":{"name":"labels"},"transform":[{"filter":"datum.panel==='hLn' && datum.part==='sup'"}],"mark":{"type":"text","font":"Liberation Serif, Times New Roman, serif","fontSize":21,"fontStyle":"italic","align":"left","baseline":"alphabetic"},"encoding":{"x":{"field":"x","type":"quantitative","axis":null},"y":{"field":"y","type":"quantitative","axis":null},"text":{"field":"text"}}}
],
"resolve":{"axis":{"x":"independent","y":"independent"}}
}
],
"resolve": {"scale": {"x": "independent", "y": "independent"}},
"config": {
"view": {"stroke": "black", "strokeWidth": 1},
"axis": {"domain": false, "grid": false, "tickColor": "black", "tickWidth": 1, "labelColor": "black", "labelFont": "Liberation Serif, Times New Roman, serif", "labelFontSize": 22, "labelFlush": false, "labelOverlap": false, "labelBound": false, "titleFont": "Liberation Serif, Times New Roman, serif", "titleFontSize": 22, "titleFontWeight": "normal", "titleColor": "black"},
"text": {"font": "Liberation Serif, Times New Roman, serif", "color": "black"}
}
}
